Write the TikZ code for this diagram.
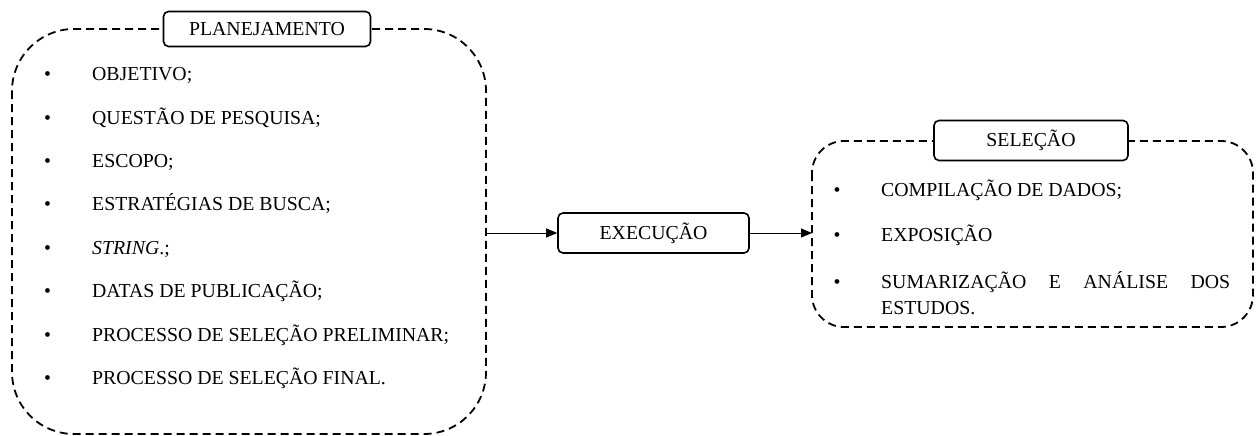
\documentclass[tikz,border=0pt]{standalone}
\usepackage{fontspec}
\setmainfont{Liberation Serif}
\usetikzlibrary{arrows.meta}
\tikzset{
  group/.style={draw, line width=1.8pt, dash pattern=on 8pt off 5pt},
  tag/.style={draw, fill=white, line width=1.6pt, rounded corners=5pt,
    inner sep=0pt, font=\fontsize{19.8}{24}\selectfont},
  itm/.style={inner sep=0pt, anchor=base west, font=\fontsize{19.8}{24}\selectfont},
  dot/.style={inner sep=0pt, anchor=base, font=\fontsize{19.8}{24}\selectfont},
  flow/.style={line width=1pt, -{Triangle[length=11pt,width=9pt]}}
}
\begin{document}
\begin{tikzpicture}[x=1pt,y=-1pt]
\useasboundingbox (0,0) rectangle (1260,436);

% planning group
\draw[group, rounded corners=62pt] (12,29) rectangle (486,434);
\coordinate (pe) at (486,233);
\node[tag, minimum width=207pt, minimum height=35pt] (plan) at (267,29) {PLANEJAMENTO};

\foreach \y/\t [count=\i] in {
  80.6/{OBJETIVO;},
  124.0/{QUESTÃO DE PESQUISA;},
  167.5/{ESCOPO;},
  210.9/{ESTRATÉGIAS DE BUSCA;},
  254.3/{\textit{STRING}.;},
  297.8/{DATAS DE PUBLICAÇÃO;},
  341.2/{PROCESSO DE SELEÇÃO PRELIMINAR;},
  384.6/{PROCESSO DE SELEÇÃO FINAL.}}{
  \node[dot] (pb\i) at (47.5,\y) {•};
  \node[itm] (pt\i) at (92,\y) {\t};
}

% execution step
\node[tag, minimum width=191pt, minimum height=40pt] (exec) at (653.5,233) {EXECUÇÃO};

% selection group
\draw[group, rounded corners=32pt] (812,141) rectangle (1253,327);
\coordinate (se) at (812,233);
\node[tag, minimum width=194pt, minimum height=40pt] (sel) at (1031,140.5) {SELEÇÃO};

\node[dot] (sb1) at (837,196.5) {•};
\node[itm] (st1) at (881,196.5) {COMPILAÇÃO DE DADOS;};
\node[dot] (sb2) at (837,241.8) {•};
\node[itm] (st2) at (881,241.8) {EXPOSIÇÃO};
\node[dot] (sb3) at (837,288) {•};
\node[itm] (st3) at (881,288) {\hbox to 349pt{SUMARIZAÇÃO\hfill E\hfill ANÁLISE\hfill DOS}};
\node[itm] (st4) at (881,314) {ESTUDOS.};

% connectors
\draw[flow] (pe) -- (exec.west);
\draw[flow] (exec.east) -- (se);
\end{tikzpicture}
\end{document}
